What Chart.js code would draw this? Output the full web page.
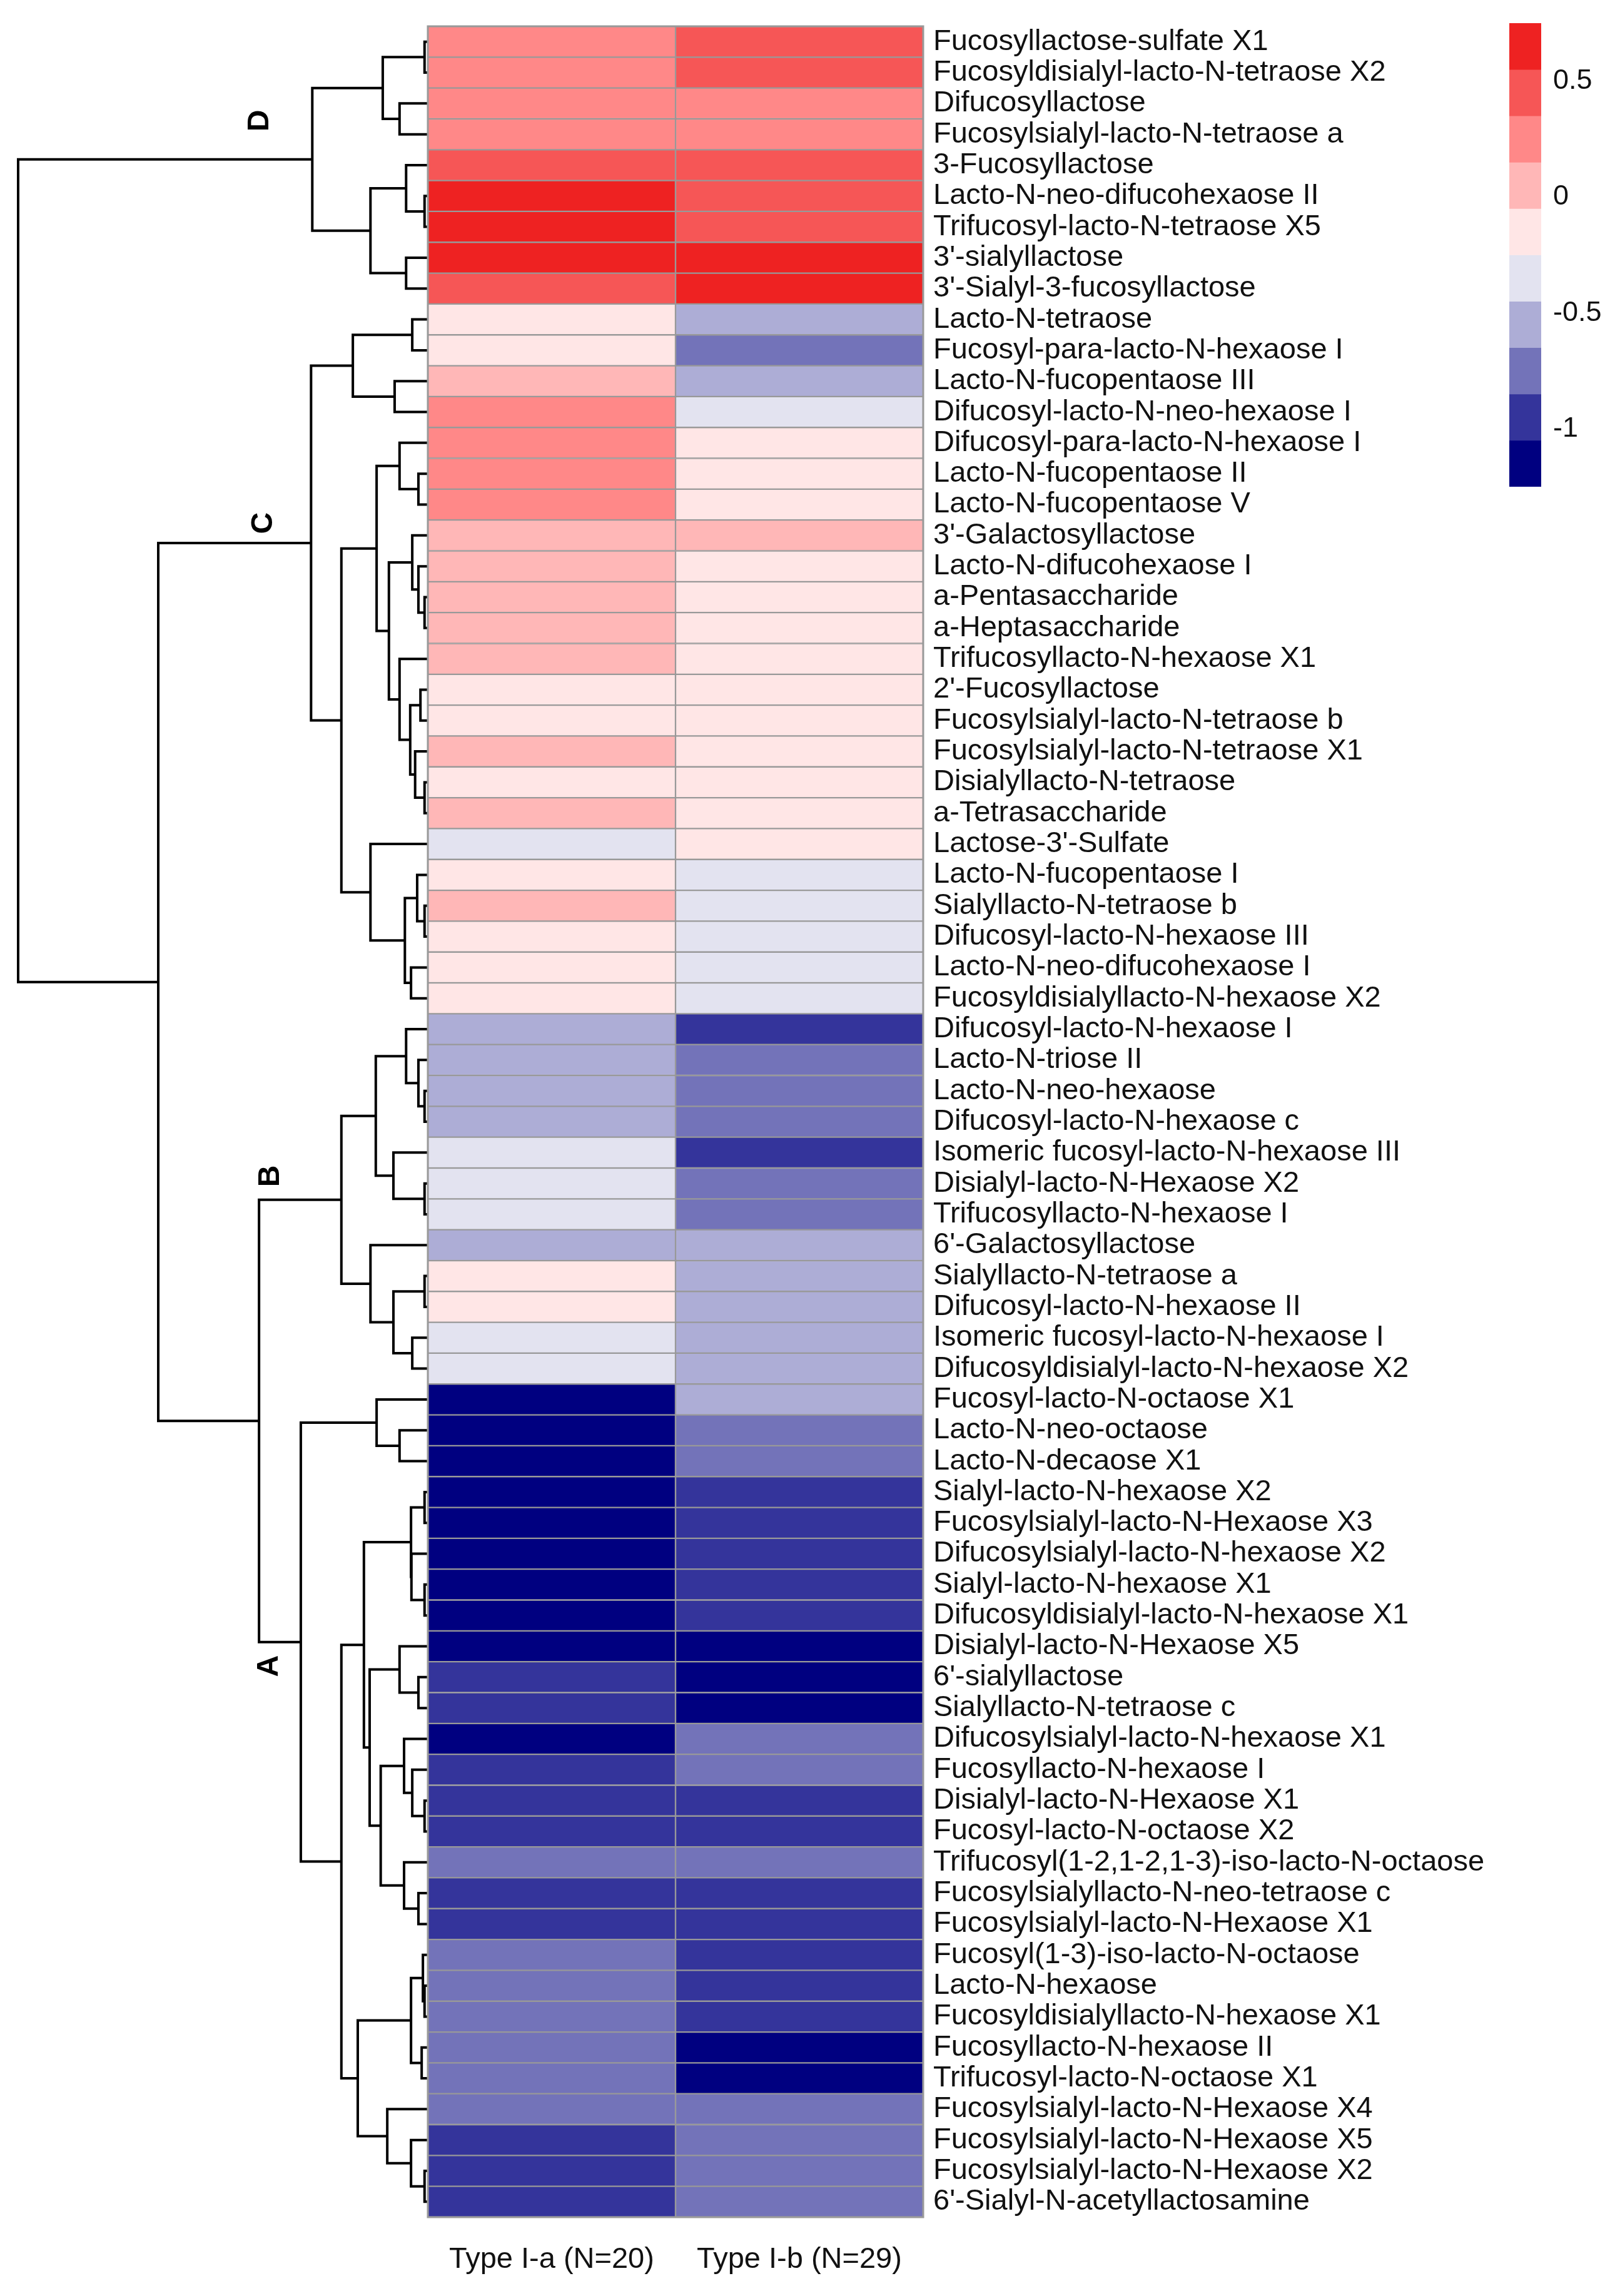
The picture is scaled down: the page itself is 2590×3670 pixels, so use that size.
<!DOCTYPE html>
<html>
<head>
<meta charset="utf-8">
<script src="https://cdn.jsdelivr.net/npm/chart.js@4.4.1/dist/chart.umd.min.js"></script>
<style>
  body { margin: 0; background: #fff; }
  #marco { position: relative; width: 2590px; height: 3670px; }
  #mapa { position: absolute; left: 0; top: 0; }
  #escala { position: absolute; left: 2380px; top: 0; }
</style>
</head>
<body>
<div id="marco">
  <canvas id="mapa" width="2590" height="3670"></canvas>
  <canvas id="escala" width="210" height="800"></canvas>
</div>
<script>
// Datos
const compuestos = [
  "Fucosyllactose-sulfate X1",
  "Fucosyldisialyl-lacto-N-tetraose X2",
  "Difucosyllactose",
  "Fucosylsialyl-lacto-N-tetraose a",
  "3-Fucosyllactose",
  "Lacto-N-neo-difucohexaose II",
  "Trifucosyl-lacto-N-tetraose X5",
  "3'-sialyllactose",
  "3'-Sialyl-3-fucosyllactose",
  "Lacto-N-tetraose",
  "Fucosyl-para-lacto-N-hexaose I",
  "Lacto-N-fucopentaose III",
  "Difucosyl-lacto-N-neo-hexaose I",
  "Difucosyl-para-lacto-N-hexaose I",
  "Lacto-N-fucopentaose II",
  "Lacto-N-fucopentaose V",
  "3'-Galactosyllactose",
  "Lacto-N-difucohexaose I",
  "a-Pentasaccharide",
  "a-Heptasaccharide",
  "Trifucosyllacto-N-hexaose X1",
  "2'-Fucosyllactose",
  "Fucosylsialyl-lacto-N-tetraose b",
  "Fucosylsialyl-lacto-N-tetraose X1",
  "Disialyllacto-N-tetraose",
  "a-Tetrasaccharide",
  "Lactose-3'-Sulfate",
  "Lacto-N-fucopentaose I",
  "Sialyllacto-N-tetraose b",
  "Difucosyl-lacto-N-hexaose III",
  "Lacto-N-neo-difucohexaose I",
  "Fucosyldisialyllacto-N-hexaose X2",
  "Difucosyl-lacto-N-hexaose I",
  "Lacto-N-triose II",
  "Lacto-N-neo-hexaose",
  "Difucosyl-lacto-N-hexaose c",
  "Isomeric fucosyl-lacto-N-hexaose III",
  "Disialyl-lacto-N-Hexaose X2",
  "Trifucosyllacto-N-hexaose I",
  "6'-Galactosyllactose",
  "Sialyllacto-N-tetraose a",
  "Difucosyl-lacto-N-hexaose II",
  "Isomeric fucosyl-lacto-N-hexaose I",
  "Difucosyldisialyl-lacto-N-hexaose X2",
  "Fucosyl-lacto-N-octaose X1",
  "Lacto-N-neo-octaose",
  "Lacto-N-decaose X1",
  "Sialyl-lacto-N-hexaose X2",
  "Fucosylsialyl-lacto-N-Hexaose X3",
  "Difucosylsialyl-lacto-N-hexaose X2",
  "Sialyl-lacto-N-hexaose X1",
  "Difucosyldisialyl-lacto-N-hexaose X1",
  "Disialyl-lacto-N-Hexaose X5",
  "6'-sialyllactose",
  "Sialyllacto-N-tetraose c",
  "Difucosylsialyl-lacto-N-hexaose X1",
  "Fucosyllacto-N-hexaose I",
  "Disialyl-lacto-N-Hexaose X1",
  "Fucosyl-lacto-N-octaose X2",
  "Trifucosyl(1-2,1-2,1-3)-iso-lacto-N-octaose",
  "Fucosylsialyllacto-N-neo-tetraose c",
  "Fucosylsialyl-lacto-N-Hexaose X1",
  "Fucosyl(1-3)-iso-lacto-N-octaose",
  "Lacto-N-hexaose",
  "Fucosyldisialyllacto-N-hexaose X1",
  "Fucosyllacto-N-hexaose II",
  "Trifucosyl-lacto-N-octaose X1",
  "Fucosylsialyl-lacto-N-Hexaose X4",
  "Fucosylsialyl-lacto-N-Hexaose X5",
  "Fucosylsialyl-lacto-N-Hexaose X2",
  "6'-Sialyl-N-acetyllactosamine"
];

const grupos = ["Type I-a (N=20)", "Type I-b (N=29)"];

// valores escalados, fila por fila
const tipoIa = [
  0.25, 0.25, 0.25, 0.25, 0.45, 0.65, 0.65, 0.65, 0.45,
  -0.15, -0.15, 0.05, 0.25, 0.25, 0.25, 0.25, 0.05, 0.05, 0.05, 0.05, 0.05,
  -0.15, -0.15, 0.05, -0.15, 0.05, -0.35, -0.15, 0.05, -0.15, -0.15, -0.15,
  -0.55, -0.55, -0.55, -0.55, -0.35, -0.35, -0.35, -0.55, -0.15, -0.15, -0.35, -0.35,
  -1.15, -1.15, -1.15, -1.15, -1.15, -1.15, -1.15, -1.15, -1.15, -0.95, -0.95,
  -1.15, -0.95, -0.95, -0.95, -0.75, -0.95, -0.95, -0.75, -0.75, -0.75, -0.75, -0.75,
  -0.75, -0.95, -0.95, -0.95
];

const tipoIb = [
  0.45, 0.45, 0.25, 0.25, 0.45, 0.45, 0.45, 0.65, 0.65,
  -0.55, -0.75, -0.55, -0.35, -0.15, -0.15, -0.15, 0.05, -0.15, -0.15, -0.15, -0.15,
  -0.15, -0.15, -0.15, -0.15, -0.15, -0.15, -0.35, -0.35, -0.35, -0.35, -0.35,
  -0.95, -0.75, -0.75, -0.75, -0.95, -0.75, -0.75, -0.55, -0.55, -0.55, -0.55, -0.55,
  -0.55, -0.75, -0.75, -0.95, -0.95, -0.95, -0.95, -0.95, -1.15, -1.15, -1.15,
  -0.75, -0.75, -0.95, -0.95, -0.75, -0.95, -0.95, -0.95, -0.95, -0.95, -1.15, -1.15,
  -0.75, -0.75, -0.75, -0.75
];

// escala de color
const cortes = [0.75, 0.55, 0.35, 0.15, -0.05, -0.25, -0.45, -0.65, -0.85, -1.05, -1.25];
const colores = ["#EE2222", "#F65656", "#FF8888", "#FFB7B7", "#FFE6E6",
                 "#E3E3F0", "#ADADD6", "#7373B9", "#34349B", "#000080"];
const ticksEscala = [0.5, 0, -0.5, -1];

// dendrograma (como hclust: negativo = fila, positivo = union anterior)
const unionA = [-1, -3, 1, -6, -5, -8, 5, 3,
  -10, -12, 9, -15, -14, -19, -18, -17, -22, -25, -24, 17, -21, 16, 13, -29, -28, -31, 25, -27, 23, 11,
  -35, -34, -33, -38, -37, 33, -41, -43, 37, -40, 36,
  -46, -45, -48, -51, -50, 44, -54, -53, -58, -57, -56, -61, -60, 52, 49, 47,
  -64, -63, -66, 59, -70, -69, -68, 61, 57, 43, 41, 30, 8];
const unionB = [-2, -4, 2, -7, 4, -9, 6, 7,
  -11, -13, 10, -16, 12, -20, 14, 15, -23, -26, 18, 19, 20, 21, 22, -30, 24, -32, 26, 27, 28, 29,
  -36, 31, 32, -39, 34, 35, -42, -44, 38, 39, 40,
  -47, 42, -49, -52, 45, 46, -55, 48, -59, 50, 51, -62, 53, 54, 55, 56,
  -65, 58, -67, 60, -71, 62, 63, 64, 65, 66, 67, 68, 69];
const alturaUnion = [0.008, 0.069, 0.110, 0.008, 0.053, 0.053, 0.140, 0.282,
  0.038, 0.081, 0.183, 0.023, 0.069, 0.008, 0.023, 0.038, 0.018, 0.008, 0.031, 0.043,
  0.069, 0.095, 0.125, 0.008, 0.026, 0.041, 0.056, 0.140, 0.211, 0.285,
  0.008, 0.023, 0.053, 0.008, 0.084, 0.127, 0.008, 0.038, 0.084, 0.140, 0.211,
  0.069, 0.125, 0.008, 0.008, 0.040, 0.041, 0.023, 0.069, 0.008, 0.038, 0.058,
  0.023, 0.058, 0.115, 0.142, 0.156,
  0.008, 0.012, 0.015, 0.041, 0.008, 0.041, 0.099, 0.171, 0.211, 0.310, 0.412, 0.658, 1.0];

const grupoNombre = ["D", "C", "B", "A"];
const grupoAltura = [0.41, 0.40, 0.383, 0.386];
const grupoFila = [2.56, 15.6, 36.76, 52.64];

// ancho del dendrograma, en columnas del mapa
const ANCHO_ARBOL = 1.654;
const fuente = '"Liberation Sans", Arial, sans-serif';

function colorDe(v) {
  for (let i = 0; i < colores.length; i++) {
    if (v >= cortes[i + 1]) return colores[i];
  }
  return colores[colores.length - 1];
}

// quitar el margen extra que Chart.js deja para las etiquetas
function sinRelleno(s) {
  s.paddingTop = 0;
  s.paddingBottom = 0;
  s.paddingLeft = 0;
  s.paddingRight = 0;
}

/* DENDROGRAMA Y BORDE */
const arbol = {
  id: "arbol",
  afterDatasetsDraw(chart) {
    const x = chart.scales.x;
    const y = chart.scales.y;
    const c = chart.ctx;
    const posY = [];
    const posH = [];
    const nodo = (k) => k < 0
      ? [y.getPixelForValue(-k - 1), 0]
      : [posY[k - 1], posH[k - 1]];
    const px = (h) => x.getPixelForValue(-h * ANCHO_ARBOL);

    c.save();
    c.strokeStyle = "#000";
    c.lineWidth = 4;
    c.lineJoin = "miter";
    c.lineCap = "butt";
    for (let i = 0; i < alturaUnion.length; i++) {
      const [ya, ha] = nodo(unionA[i]);
      const [yb, hb] = nodo(unionB[i]);
      const h = alturaUnion[i];
      c.beginPath();
      c.moveTo(px(ha), ya);
      c.lineTo(px(h), ya);
      c.lineTo(px(h), yb);
      c.lineTo(px(hb), yb);
      c.stroke();
      posY.push((ya + yb) / 2);
      posH.push(h);
    }

    c.fillStyle = "#000";
    c.font = "bold 48px " + fuente;
    c.textAlign = "center";
    c.textBaseline = "middle";
    grupoNombre.forEach((n, i) => {
      c.save();
      c.translate(px(grupoAltura[i]), y.getPixelForValue(grupoFila[i]));
      c.rotate(-Math.PI / 2);
      c.fillText(n, 0, 0);
      c.restore();
    });

    const x0 = x.getPixelForValue(0);
    const x2 = x.getPixelForValue(grupos.length);
    c.strokeStyle = "#999";
    c.lineWidth = 3;
    c.strokeRect(x0, y.top, x2 - x0, y.bottom - y.top);
    c.restore();
  }
};

/* MAPA DE CALOR */
new Chart(document.getElementById("mapa"), {
  type: "bar",
  data: {
    labels: compuestos,
    datasets: [tipoIa, tipoIb].map((serie, i) => ({
      label: grupos[i],
      data: serie.map(() => 1),
      backgroundColor: serie.map(colorDe),
      borderColor: "#999",
      borderWidth: 1.5,
      borderSkipped: false,
      barPercentage: 1,
      categoryPercentage: 1
    }))
  },
  options: {
    indexAxis: "y",
    responsive: false,
    devicePixelRatio: 1,
    animation: false,
    layout: { padding: { left: 29, top: 42, right: 0, bottom: 0 } },
    plugins: { legend: { display: false }, tooltip: { enabled: false } },
    scales: {
      x: {
        type: "linear",
        stacked: true,
        min: -ANCHO_ARBOL,
        max: grupos.length,
        grid: { display: false, drawTicks: false },
        border: { display: false },
        afterBuildTicks: (s) => { s.ticks = grupos.map((g, i) => ({ value: i + 0.5 })); },
        ticks: {
          callback: (v, i) => grupos[i],
          padding: 40,
          maxRotation: 0,
          autoSkip: false,
          color: "#111",
          font: { family: fuente, size: 47 }
        },
        afterFit: (s) => { s.height = 126; sinRelleno(s); }
      },
      y: {
        position: "right",
        stacked: true,
        grid: { display: false, drawTicks: false },
        border: { display: false },
        ticks: {
          autoSkip: false,
          padding: 16,
          color: "#111",
          font: { family: fuente, size: 47 }
        },
        afterFit: (s) => { s.width = 1114; sinRelleno(s); }
      }
    }
  },
  plugins: [arbol]
});

/* LEYENDA DE COLOR */
new Chart(document.getElementById("escala"), {
  type: "bar",
  data: {
    labels: [""],
    datasets: colores.map((col, i) => ({
      data: [[cortes[i + 1], cortes[i]]],
      backgroundColor: col,
      borderWidth: 0,
      barPercentage: 1,
      categoryPercentage: 1
    }))
  },
  options: {
    responsive: false,
    devicePixelRatio: 1,
    animation: false,
    layout: { padding: { left: 33, top: 37, right: 0, bottom: 22 } },
    plugins: { legend: { display: false }, tooltip: { enabled: false } },
    scales: {
      x: { stacked: true, display: false },
      y: {
        position: "right",
        min: cortes[cortes.length - 1],
        max: cortes[0],
        grid: { display: false, drawTicks: false },
        border: { display: false },
        afterBuildTicks: (s) => { s.ticks = ticksEscala.map(v => ({ value: v })); },
        ticks: {
          padding: 19,
          callback: (v) => String(v),
          color: "#111",
          font: { family: fuente, size: 45 }
        },
        afterFit: (s) => { s.width = 126; sinRelleno(s); }
      }
    }
  }
});
</script>
</body>
</html>
